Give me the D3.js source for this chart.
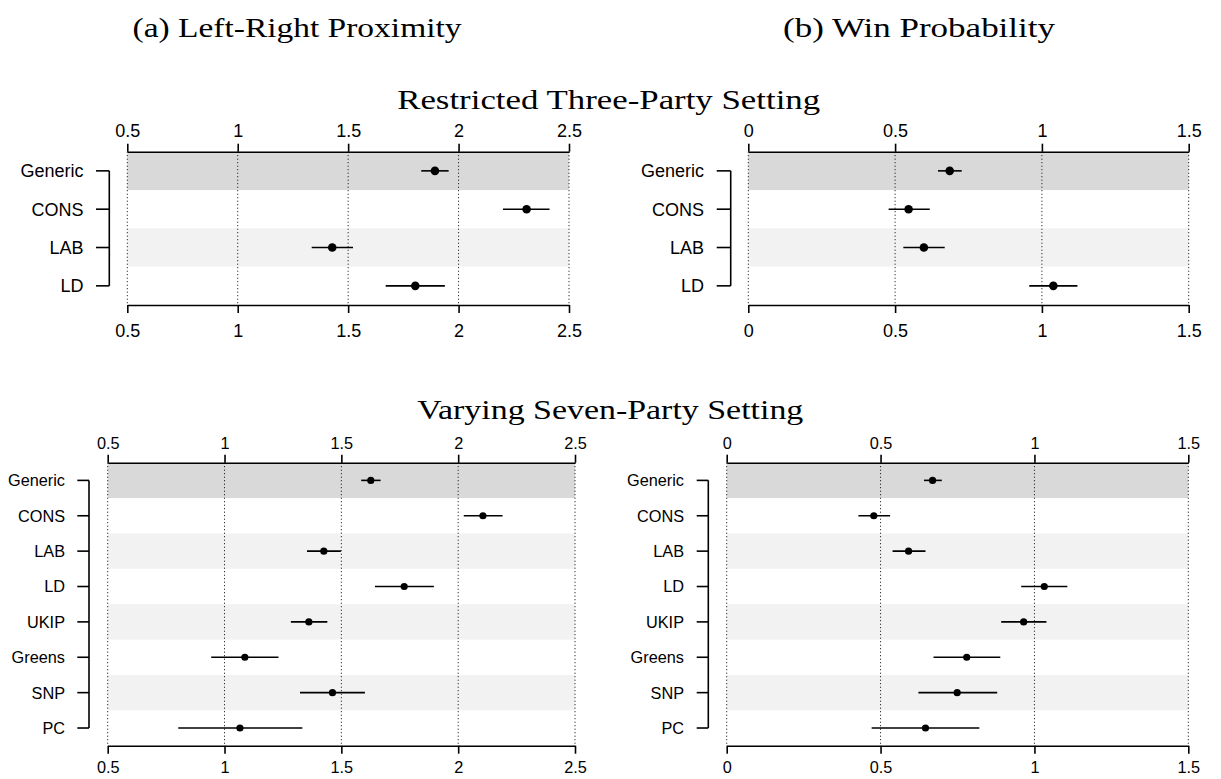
<!DOCTYPE html>
<html>
<head>
<meta charset="utf-8">
<script src="https://cdn.jsdelivr.net/npm/d3@7"></script>
<style>
  html, body { margin: 0; padding: 0; background: #fff; }
  svg { display: block; }
</style>
</head>
<body>
<svg id="chart" width="1221" height="779"></svg>
<script>
// ---------- data ----------
const partiesThree = ["Generic", "CONS", "LAB", "LD"];
const partiesSeven = ["Generic", "CONS", "LAB", "LD", "UKIP", "Greens", "SNP", "PC"];

const ticksProximity = [0.5, 1, 1.5, 2, 2.5];
const ticksWin = [0, 0.5, 1, 1.5];

// Restricted three-party setting, left-right proximity
const proxThreeEst   = [1.893, 2.308, 1.428, 1.804];
const proxThreeLower = [1.831, 2.201, 1.335, 1.670];
const proxThreeUpper = [1.955, 2.412, 1.522, 1.938];

// Restricted three-party setting, win probability
const winThreeEst   = [0.686, 0.546, 0.598, 1.039];
const winThreeLower = [0.646, 0.478, 0.528, 0.957];
const winThreeUpper = [0.727, 0.618, 0.669, 1.121];

// Varying seven-party setting, left-right proximity
const proxSevenEst   = [1.626, 2.106, 1.425, 1.769, 1.361, 1.087, 1.462, 1.066];
const proxSevenLower = [1.585, 2.024, 1.353, 1.644, 1.284, 0.943, 1.323, 0.802];
const proxSevenUpper = [1.668, 2.190, 1.498, 1.896, 1.440, 1.231, 1.601, 1.333];

// Varying seven-party setting, win probability
const winSevenEst   = [0.669, 0.478, 0.591, 1.032, 0.965, 0.780, 0.749, 0.646];
const winSevenLower = [0.641, 0.428, 0.539, 0.957, 0.892, 0.672, 0.623, 0.471];
const winSevenUpper = [0.699, 0.531, 0.646, 1.107, 1.039, 0.889, 0.879, 0.821];

const titleA = "(a) Left-Right Proximity";
const titleB = "(b) Win Probability";
const titleTop = "Restricted Three-Party Setting";
const titleBottom = "Varying Seven-Party Setting";

// ---------- drawing ----------
const svg = d3.select("#chart");
const sans = "'Liberation Sans', Arial, Helvetica, sans-serif";
const serif = "'Liberation Serif', 'Times New Roman', serif";

function serifTitle(text, cx, baseline, size, width) {
  svg.append("text")
    .attr("x", cx).attr("y", baseline)
    .attr("text-anchor", "middle")
    .attr("font-family", serif)
    .attr("font-size", size)
    .attr("textLength", width)
    .attr("lengthAdjust", "spacingAndGlyphs")
    .attr("fill", "#000")
    .text(text);
}

serifTitle(titleA, 297, 36.5, 28, 329);
serifTitle(titleB, 919, 36.5, 28, 272);
serifTitle(titleTop, 608.7, 109.3, 28, 423);
serifTitle(titleBottom, 610.3, 419.3, 28, 386);

function panel(cfg) {
  const g = svg.append("g");
  const x = d3.scaleLinear().domain(cfg.domain).range([cfg.x0, cfg.x1]);
  const n = cfg.cats.length;
  const y = d3.scaleBand().domain(cfg.cats).range([cfg.y0, cfg.y1]).paddingInner(0).paddingOuter(0);
  const bw = y.bandwidth();
  const yc = d => y(d) + bw / 2;

  // bands
  g.selectAll("rect.band")
    .data(cfg.cats.filter((d, i) => i % 2 === 0))
    .join("rect")
    .attr("x", cfg.x0).attr("width", cfg.x1 - cfg.x0)
    .attr("y", d => y(d)).attr("height", bw)
    .attr("fill", d => d === cfg.cats[0] ? "#d9d9d9" : "#f2f2f2");

  // dotted grid
  g.selectAll("line.grid")
    .data(cfg.ticks)
    .join("line")
    .attr("x1", d => x(d)).attr("x2", d => x(d))
    .attr("y1", cfg.y0).attr("y2", cfg.y1)
    .attr("stroke", "#000").attr("stroke-width", 1)
    .attr("stroke-dasharray", "1,2.5");

  // axes
  const topAxis = d3.axisTop(x).tickValues(cfg.ticks).tickFormat(d => String(d))
    .tickSizeInner(8).tickSizeOuter(0).tickPadding(cfg.padTop);
  const botAxis = d3.axisBottom(x).tickValues(cfg.ticks).tickFormat(d => String(d))
    .tickSizeInner(8).tickSizeOuter(0).tickPadding(cfg.padBot);

  [ [topAxis, cfg.y0], [botAxis, cfg.y1] ].forEach(([ax, yy]) => {
    const a = g.append("g").attr("transform", `translate(0,${yy})`).call(ax);
    a.select(".domain").attr("stroke", "#000").attr("stroke-width", 1.6);
    a.selectAll(".tick line").attr("stroke", "#000").attr("stroke-width", 1.6);
    a.selectAll(".tick text").attr("font-family", sans).attr("font-size", cfg.font).attr("fill", "#000");
  });

  // bracket
  g.append("line")
    .attr("x1", cfg.bx).attr("x2", cfg.bx)
    .attr("y1", yc(cfg.cats[0])).attr("y2", yc(cfg.cats[n - 1]))
    .attr("stroke", "#000").attr("stroke-width", 1.6);
  g.selectAll("line.btick")
    .data(cfg.cats)
    .join("line")
    .attr("x1", cfg.bt).attr("x2", cfg.bx)
    .attr("y1", d => yc(d)).attr("y2", d => yc(d))
    .attr("stroke", "#000").attr("stroke-width", 1.6);
  g.selectAll("text.cat")
    .data(cfg.cats)
    .join("text")
    .attr("x", cfg.lx).attr("y", d => yc(d))
    .attr("dy", "0.36em")
    .attr("text-anchor", "end")
    .attr("font-family", sans).attr("font-size", cfg.font)
    .attr("fill", "#000")
    .text(d => d);

  // whiskers and points
  g.selectAll("line.ci")
    .data(cfg.cats)
    .join("line")
    .attr("x1", (d, i) => x(cfg.lo[i])).attr("x2", (d, i) => x(cfg.hi[i]))
    .attr("y1", d => yc(d)).attr("y2", d => yc(d))
    .attr("stroke", "#000").attr("stroke-width", 1.6);
  g.selectAll("circle.pt")
    .data(cfg.cats)
    .join("circle")
    .attr("cx", (d, i) => x(cfg.est[i])).attr("cy", d => yc(d))
    .attr("r", cfg.r).attr("fill", "#000");
}

panel({ cats: partiesThree, domain: [0.5, 2.5], ticks: ticksProximity,
  x0: 127.3, x1: 569, y0: 151.7, y1: 305,
  est: proxThreeEst, lo: proxThreeLower, hi: proxThreeUpper,
  bx: 109.3, bt: 96, lx: 83.5, font: 18, r: 4.3, padTop: 7, padBot: 11 });

panel({ cats: partiesThree, domain: [0, 1.5], ticks: ticksWin,
  x0: 748.3, x1: 1188.7, y0: 151.7, y1: 305,
  est: winThreeEst, lo: winThreeLower, hi: winThreeUpper,
  bx: 730.7, bt: 716.7, lx: 704, font: 18, r: 4.3, padTop: 7, padBot: 11 });

panel({ cats: partiesSeven, domain: [0.5, 2.5], ticks: ticksProximity,
  x0: 107.7, x1: 575, y0: 462.7, y1: 745.7,
  est: proxSevenEst, lo: proxSevenLower, hi: proxSevenUpper,
  bx: 89, bt: 77.3, lx: 65, font: 16.3, r: 3.6, padTop: 6, padBot: 8 });

panel({ cats: partiesSeven, domain: [0, 1.5], ticks: ticksWin,
  x0: 726.7, x1: 1188.3, y0: 462.7, y1: 745.7,
  est: winSevenEst, lo: winSevenLower, hi: winSevenUpper,
  bx: 708.3, bt: 696.7, lx: 684, font: 16.3, r: 3.6, padTop: 6, padBot: 8 });
</script>
</body>
</html>
